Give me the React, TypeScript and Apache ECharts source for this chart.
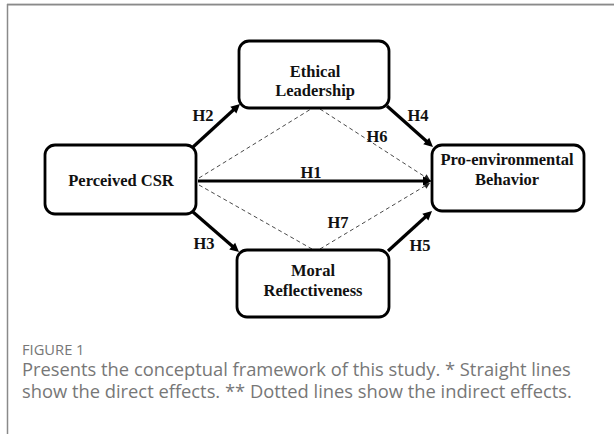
import React, { useEffect, useRef } from "react";
import * as echarts from "echarts";

// Constructs (nodes) and their text lines
const nodeIds = ["csr", "el", "pe", "mr"];
const nodeLines = [
  ["Perceived CSR"],
  ["Ethical", "Leadership"],
  ["Pro-environmental", "Behavior"],
  ["Moral", "Reflectiveness"],
];
// Hypotheses (direct paths)
const pathFrom = ["csr", "csr", "csr", "el", "mr"];
const pathTo = ["pe", "el", "mr", "pe", "pe"];
const pathLabels = ["H1", "H2", "H3", "H4", "H5"];
// Indirect (mediated) paths
const indirectLabels = ["H6", "H7"];
const indirectVia = ["el", "mr"];

const captionTitle = "FIGURE 1";
const captionLines = [
  "Presents the conceptual framework of this study. * Straight lines",
  "show the direct effects. ** Dotted lines show the indirect effects.",
];

// ---- layout (positions only) ----
const boxLayout: Record<string, { x: number; y: number; w: number; h: number; lineY: number[]; cx: number }> = {
  csr: { x: 45, y: 145, w: 151, h: 69, lineY: [180], cx: 121 },
  el: { x: 239, y: 41, w: 150, h: 67, lineY: [71, 90], cx: 315 },
  pe: { x: 432, y: 145, w: 152, h: 66, lineY: [159, 179], cx: 507 },
  mr: { x: 237, y: 250, w: 152, h: 67, lineY: [270, 290], cx: 313 },
};
const pathGeom = [
  { p: [198, 181, 432, 181], lab: [311, 172] },
  { p: [193, 147, 240, 104], lab: [203, 115] },
  { p: [193, 212, 239, 252], lab: [204, 243] },
  { p: [387, 106, 433, 147], lab: [418, 115] },
  { p: [388, 251, 432, 211], lab: [420, 245] },
];
const indirectGeom = [
  { a: [199, 178, 311, 109], b: [320, 109, 430, 180], lab: [377, 136] },
  { a: [199, 185, 312, 249], b: [320, 249, 430, 183], lab: [338, 222] },
];

function arrowHead(p: number[], len: number, half: number) {
  const [x1, y1, x2, y2] = p;
  const d = Math.hypot(x2 - x1, y2 - y1);
  const ux = (x2 - x1) / d;
  const uy = (y2 - y1) / d;
  const bx = x2 - ux * len;
  const by = y2 - uy * len;
  return [
    [x2, y2],
    [bx - uy * half, by + ux * half],
    [bx + uy * half, by - ux * half],
  ];
}

function shorten(p: number[], by: number) {
  const [x1, y1, x2, y2] = p;
  const d = Math.hypot(x2 - x1, y2 - y1);
  return [x1, y1, x2 - ((x2 - x1) / d) * by, y2 - ((y2 - y1) / d) * by];
}

const serif = "'Liberation Serif', 'Times New Roman', serif";
const sans = "'Open Sans', Lato, sans-serif";

function txt(text: string, x: number, y: number, size: number, extra: any = {}) {
  return {
    type: "text",
    x,
    y,
    z: 10,
    style: {
      text,
      fontFamily: serif,
      fontWeight: "bold",
      fontSize: size,
      fill: "#111",
      textAlign: "center",
      textVerticalAlign: "middle",
      align: "center",
      verticalAlign: "middle",
      ...extra,
    },
  };
}

export default function App() {
  const ref = useRef<HTMLDivElement>(null);
  useEffect(() => {
    if (!ref.current) return;
    const chart = echarts.init(ref.current, null, { renderer: "svg" });
    const els: any[] = [];

    // frame
    els.push({ type: "line", shape: { x1: 7, y1: 3.5, x2: 614, y2: 3.5 }, style: { stroke: "#d4d4d4", lineWidth: 1 } });
    els.push({ type: "line", shape: { x1: 7, y1: 4.75, x2: 614, y2: 4.75 }, style: { stroke: "#8a8a8a", lineWidth: 1.5 } });
    els.push({ type: "line", shape: { x1: 7.5, y1: 4, x2: 7.5, y2: 434 }, style: { stroke: "#8a8a8a", lineWidth: 1.5 } });

    // dashed indirect paths
    indirectGeom.forEach((g, i) => {
      els.push({ type: "line", shape: { x1: g.a[0], y1: g.a[1], x2: g.a[2], y2: g.a[3] }, style: { stroke: "#4a4a4a", lineWidth: 1, lineDash: [4, 3] } });
      const sb = shorten(g.b, 4);
      els.push({ type: "line", shape: { x1: sb[0], y1: sb[1], x2: sb[2], y2: sb[3] }, style: { stroke: "#4a4a4a", lineWidth: 1, lineDash: [4, 3] } });
      els.push({ type: "polygon", shape: { points: arrowHead(g.b, 6, 3) }, style: { fill: "#222" } });
      els.push(txt(indirectLabels[i], g.lab[0], g.lab[1], 16.5));
      void indirectVia[i];
    });

    // solid direct paths
    pathLabels.forEach((lab, i) => {
      const g = pathGeom[i];
      const s = shorten(g.p, 6);
      els.push({ type: "line", shape: { x1: s[0], y1: s[1], x2: s[2], y2: s[3] }, style: { stroke: "#000", lineWidth: 3.2 } });
      els.push({ type: "polygon", shape: { points: arrowHead(g.p, 9, 4.5) }, style: { fill: "#000" } });
      els.push(txt(lab, g.lab[0], g.lab[1], 16.5));
      void pathFrom[i];
      void pathTo[i];
    });

    // boxes
    nodeIds.forEach((id, i) => {
      const b = boxLayout[id];
      els.push({ type: "rect", z: 5, shape: { x: b.x, y: b.y, width: b.w, height: b.h, r: 10 }, style: { fill: "#fff", stroke: "#000", lineWidth: 2.8 } });
      nodeLines[i].forEach((line, j) => {
        els.push(txt(line, b.cx, b.lineY[j], 16.5));
      });
    });

    // caption
    els.push({
      type: "text", x: 22, y: 350, scaleX: 1.05,
      style: { text: captionTitle, fontFamily: sans, fontSize: 14, fill: "#777", textVerticalAlign: "middle", verticalAlign: "middle" },
    });
    captionLines.forEach((line, j) => {
      els.push({
        type: "text", x: 22, y: 369 + j * 22, scaleX: 1.048,
        style: { text: line, fontFamily: sans, fontSize: 17.5, fill: "#777", textVerticalAlign: "middle", verticalAlign: "middle" },
      });
    });

    chart.setOption({ animation: false, backgroundColor: "#fff", graphic: { elements: els } });
    return () => chart.dispose();
  }, []);
  return <div ref={ref} style={{ position: "fixed", left: 0, top: 0, width: 614, height: 434 }} />;
}
